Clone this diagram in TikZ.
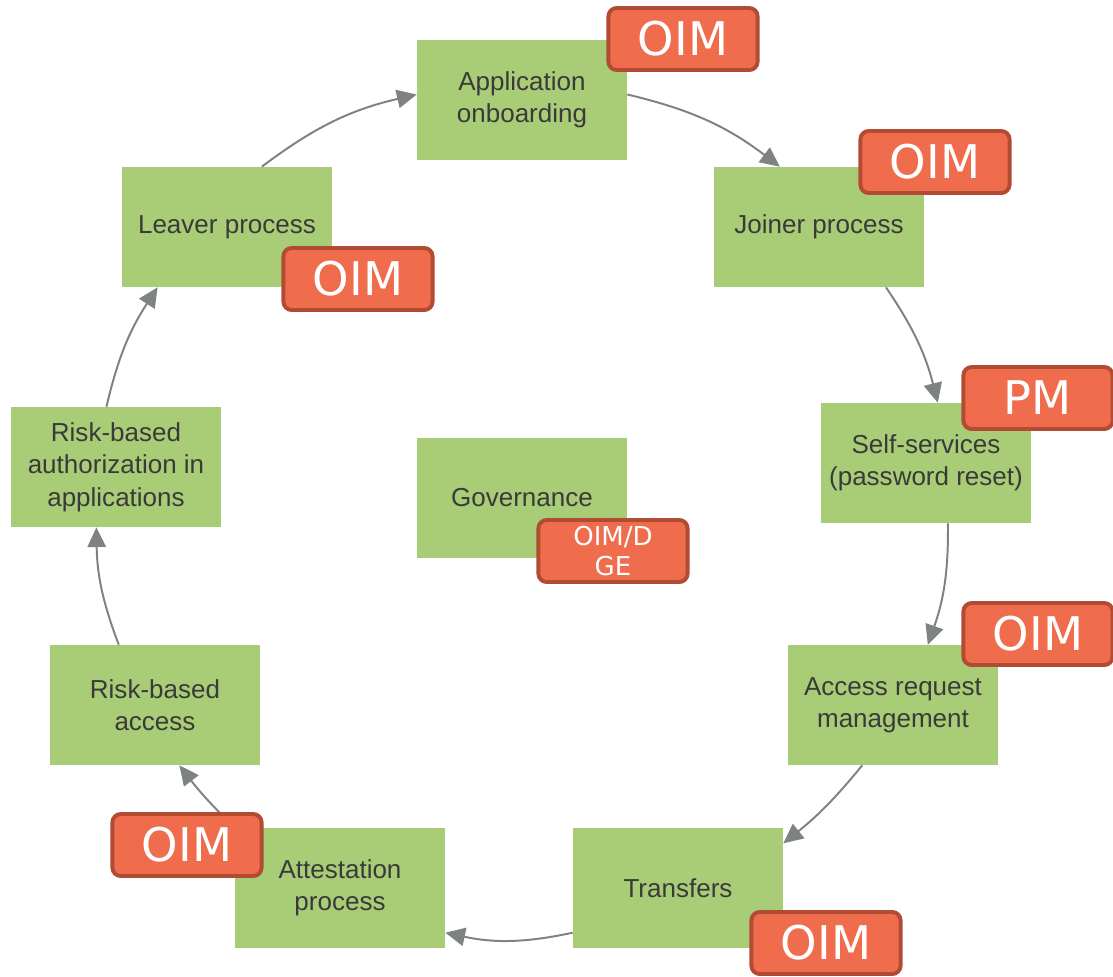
\documentclass[tikz,border=0pt]{standalone}
\usepackage{fontspec}
\setmainfont{Liberation Sans}
\newfontfamily\tagfont{DejaVu Sans}
\usepackage{tikz}
\usetikzlibrary{%
  positioning
 ,arrows.meta
 ,calc
}
\definecolor{boxgreen}{HTML}{A9CC77}
\definecolor{tagfill}{HTML}{EF6C4D}
\definecolor{tagdraw}{HTML}{B24B33}
\definecolor{txtgray}{HTML}{3A3A3A}
\definecolor{arrgray}{HTML}{7F8283}
\tikzstyle{cyc}=[x=0.025cm,y=-0.025cm]
\tikzstyle{proc}=[rectangle,fill=boxgreen,text=txtgray,minimum width=5.25cm,minimum height=3cm,
  align=center,font=\fontsize{18.5}{23}\selectfont,inner sep=2pt]
\tikzstyle{tag}=[rectangle,rounded corners=6pt,draw=tagdraw,line width=2.8pt,fill=tagfill,text=white,
  minimum width=3.73cm,minimum height=1.55cm,inner sep=1pt,align=center]
\tikzstyle{big}=[font=\tagfont\fontsize{33}{36}\selectfont]
\tikzstyle{flow}=[color=arrgray,line width=1.4pt,-{Triangle[length=14pt,width=13pt]}]

\begin{document}
\begin{tikzpicture}[cyc]
      \useasboundingbox (0,0) rectangle (1113,976);
      % process boxes
      \node[proc] (onb)  at (522,100) {Application\\onboarding};
      \node[proc] (join) at (819,227) {Joiner process};
      \node[proc] (self) at (926,463) {Self-services\\(password reset)};
      \node[proc] (areq) at (893,705) {Access request\\management};
      \node[proc] (trf)  at (678,888) {Transfers};
      \node[proc] (att)  at (340,888) {Attestation\\process};
      \node[proc] (rba)  at (155,705) {Risk-based\\access};
      \node[proc] (rbz)  at (116,467) {Risk-based\\authorization in\\applications};
      \node[proc] (leav) at (227,227) {Leaver process};
      \node[proc] (gov)  at (522,498) {Governance};
      \path[flow]
        (leav.60)  edge[bend left=12] (onb.177)
        (onb.3)    edge[bend left=12] (join.123)
        (join.-42) edge[bend left=10] (self.79)
        (self.-70) edge[bend left=10] (areq.60)
        (areq.243) edge[bend left=6]  (trf.23)
        (trf.203)  edge[bend left=12] (att.-23)
        (att.north west) edge[bend left=4] (rba.-68)
        (rba.121)  edge[bend left=10] (rbz.252)
        (rbz.99)   edge[bend left=10] (leav.221);
      % tool tags
      \node[tag,big] (t_onb)  at (683,39)  {OIM};
      \node[tag,big] (t_join) at (935,162) {OIM};
      \node[tag,big] (t_self) at (1038,398) {PM};
      \node[tag,big] (t_areq) at (1038,634) {OIM};
      \node[tag,big] (t_trf)  at (826,943) {OIM};
      \node[tag,big] (t_att)  at (187,845) {OIM};
      \node[tag,big] (t_leav) at (358,279) {OIM};
      \node[tag,font=\tagfont\fontsize{18.5}{22}\selectfont] (t_gov) at (613,551) {OIM/D\\GE};
    \end{tikzpicture}
\end{document}
